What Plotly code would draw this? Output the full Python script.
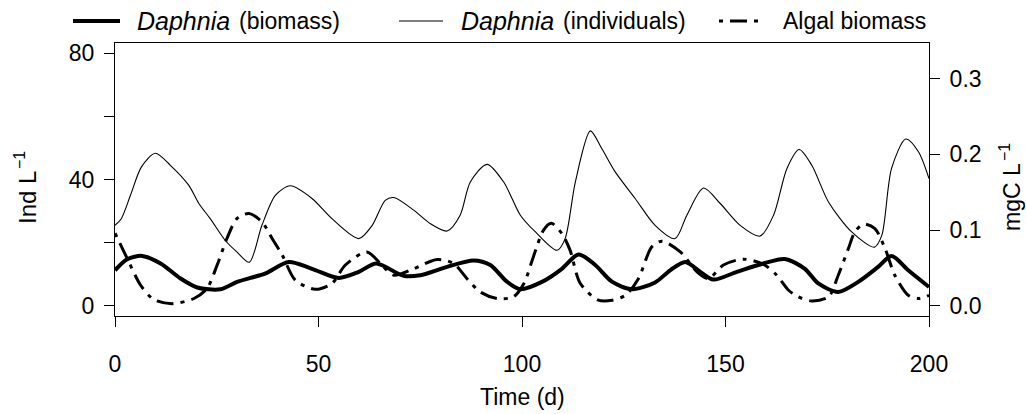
import plotly.graph_objects as go

# ---------------- data ----------------
t_ind = [0, 1.5, 3.8, 6.5, 9.9, 13.6, 18.1, 20.6, 23.4, 27.1, 30, 33, 36.1, 39.4, 43.1, 48.4,
         53.3, 59.9, 63.2, 66.4, 68.5, 73.4, 77.5, 81.6, 84.8, 87.3, 91.4, 95.5, 99.6, 103.3,
         108.6, 110.6, 113.1, 116.8, 119.6, 122.9, 127.8, 132.7, 137.6, 140.5, 144.6, 148.7,
         153.6, 158.5, 161.8, 165.1, 168.1, 171.2, 175.3, 181, 186.6, 188.4, 190.8, 194.3,
         197.4, 200]
ind = [25.5, 27.5, 35, 44, 48.3, 44.5, 38.2, 32.4, 27.6, 20.7, 17, 13.8, 25.5, 35, 38, 34,
       27.6, 21.3, 25.5, 33.4, 34.3, 30.3, 26, 23.7, 28.7, 39.2, 44.8, 39.2, 28.7, 23.4,
       17.6, 21.3, 39.2, 55.4, 49.8, 42.4, 34, 25.5, 21.3, 28.7, 37.3, 32.4,
       25.5, 22.1, 28.7, 43.5, 49.5, 44.5, 32.9, 23.4, 18.6, 22.3, 43.5, 52.8,
       48.8, 40.3]

t_bio = [0, 3, 6.7, 11.2, 16.1, 20.2, 25.9, 30, 33.3, 37, 42.7, 48.4, 55, 59.9, 64.2, 70.9,
         75, 81.6, 88.1, 92.2, 96.3, 99.6, 104.9, 109.8, 113.9, 118, 122.1, 127, 132.7,
         136.4, 140.1, 143.8, 147, 152.8, 159.3, 164.6, 169.5, 172.8, 177.7, 182.6, 187.5,
         190.8, 194.9, 200]
bio = [0.047, 0.0617, 0.066, 0.056, 0.0362, 0.0243, 0.022, 0.0317, 0.037, 0.043, 0.058,
       0.049, 0.037, 0.045, 0.056, 0.0397, 0.0405, 0.0515, 0.060, 0.054, 0.032, 0.022,
       0.0317, 0.049, 0.068, 0.054, 0.032, 0.022, 0.031, 0.047, 0.058, 0.045, 0.0348,
       0.045, 0.056, 0.062, 0.049, 0.0296, 0.0185, 0.0317, 0.0515, 0.066, 0.047, 0.025]

t_alg = [0, 3, 6.3, 9.5, 14, 19.4, 22.6, 25.1, 27.5, 30, 32.9, 36.1, 38.6, 41.1, 44.3, 49.2,
         53.3, 56.6, 61.9, 65.2, 68.5, 73.4, 79.1, 83.2, 86.5, 89.7, 93.9, 97.9, 100.5,
         102.8, 105.3, 107.2, 109.8, 111.8, 114.3, 118.6, 122.1, 125.4, 128.6, 131.9, 134.4,
         138.9, 143, 145.8, 149.5, 154.4, 159.3, 162.6, 165.5, 167.9, 171.2, 175.3, 177.7,
         180.2, 181.8, 183.9, 186.7, 189.2, 191.6, 194.9, 197.4, 200]
alg = [0.096, 0.0626, 0.0273, 0.0085, 0.003, 0.0098, 0.023, 0.054, 0.089, 0.1155, 0.122,
       0.111, 0.089, 0.067, 0.034, 0.022, 0.0296, 0.054, 0.0713, 0.056, 0.0405, 0.049,
       0.0613, 0.056, 0.036, 0.0185, 0.0098, 0.012, 0.03, 0.065, 0.1, 0.109, 0.0956,
       0.0736, 0.03, 0.008, 0.0075, 0.014, 0.036, 0.078, 0.0855, 0.0713, 0.045, 0.036,
       0.054, 0.0617, 0.055, 0.0405, 0.0207, 0.0119, 0.0066, 0.0119, 0.0405, 0.0758,
       0.0978, 0.108, 0.102, 0.0758, 0.0405, 0.014, 0.0098, 0.014]

x_ticks = [0, 50, 100, 150, 200]
y_ticks = [0, 40, 80]
y_minor_ticks = [20, 60]
y2_ticks = [0.0, 0.1, 0.2, 0.3]
y2_ticktext = ["0.0", "0.1", "0.2", "0.3"]

# legend labels: (italic part, plain part)
legend_names = [("Daphnia", "(biomass)"), ("Daphnia", "(individuals)"), ("", "Algal biomass")]

# ---------------- layout helpers ----------------
W, H = 1026, 414
ML, MR, MT, MB = 115, 97, 43, 98
FONT = "Liberation Sans, Arial, Helvetica, sans-serif"
FS = 23
DASH = "4px,7px,17px,7px"


def px(X):
    return (X - ML) / (W - ML - MR)


def py(Y):
    return (H - MB - Y) / (H - MT - MB)


fig = go.Figure()
fig.add_trace(go.Scatter(x=t_ind, y=ind, mode="lines", yaxis="y",
                         line=dict(color="black", width=1.1, shape="spline", smoothing=0.8)))
fig.add_trace(go.Scatter(x=t_alg, y=alg, mode="lines", yaxis="y2",
                         line=dict(color="black", width=3, dash=DASH, shape="spline", smoothing=0.8)))
fig.add_trace(go.Scatter(x=t_bio, y=bio, mode="lines", yaxis="y2",
                         line=dict(color="black", width=4, shape="spline", smoothing=0.8)))

axis_common = dict(showgrid=False, zeroline=False, ticks="outside", ticklen=10, tickwidth=1,
                   tickcolor="black", tickfont=dict(family=FONT, size=FS, color="black"))

fig.update_layout(
    width=W, height=H,
    margin=dict(l=ML, r=MR, t=MT, b=MB),
    paper_bgcolor="white", plot_bgcolor="white",
    showlegend=False,
    font=dict(family=FONT, size=FS, color="black"),
    xaxis=dict(range=[0, 200], tickvals=x_ticks, showline=True, mirror=True,
               linecolor="black", linewidth=1, ticklabelstandoff=17, **axis_common),
    yaxis=dict(range=[-3.2, 83.2], tickvals=y_ticks, showline=True,
               mirror=True, linecolor="black", linewidth=1, ticklabelstandoff=5,
               minor=dict(tickvals=y_minor_ticks, ticks="outside", ticklen=10, tickwidth=1,
                          tickcolor="black", showgrid=False),
               **axis_common),
    yaxis2=dict(range=[-0.0133, 0.347], tickvals=y2_ticks, ticktext=y2_ticktext,
                overlaying="y", side="right", showline=False, ticklabelstandoff=5,
                **axis_common),
)


def ann(text, X, Y, size=FS, xanchor="center", angle=0, style="normal"):
    return dict(text=text, x=px(X), y=py(Y), xref="paper", yref="paper", showarrow=False,
                xanchor=xanchor, yanchor="middle", textangle=angle,
                font=dict(family=FONT, size=size, color="black", style=style))


annotations = [
    ann("Time (d)", 522, 397),
    ann("Ind L", 27, 198, size=24, angle=-90),
    ann("\u22121", 19, 160, size=16, angle=-90),
    ann("mgC L", 1012, 197, angle=-90),
    ann("\u22121", 1004, 152, size=16, angle=-90),
]

leg_italic_x = [135, 459, None]
leg_plain_x = [237, 561, 781]
leg_line = [(73, 120, 4, "solid"), (399, 443, 1.1, "solid"), (719, 763, 3, DASH)]
LEG_Y = 21
shapes = []
for (it, pl), ix, plx, (x0, x1, lw, ds) in zip(legend_names, leg_italic_x, leg_plain_x, leg_line):
    if it:
        annotations.append(ann(it, ix, LEG_Y, size=25, xanchor="left", style="italic"))
    annotations.append(ann(pl, plx, LEG_Y, xanchor="left"))
    shapes.append(dict(type="line", xref="paper", yref="paper", x0=px(x0), x1=px(x1),
                       y0=py(LEG_Y), y1=py(LEG_Y), line=dict(color="black", width=lw, dash=ds)))

fig.update_layout(annotations=annotations, shapes=shapes)
fig.write_html("out.html")
